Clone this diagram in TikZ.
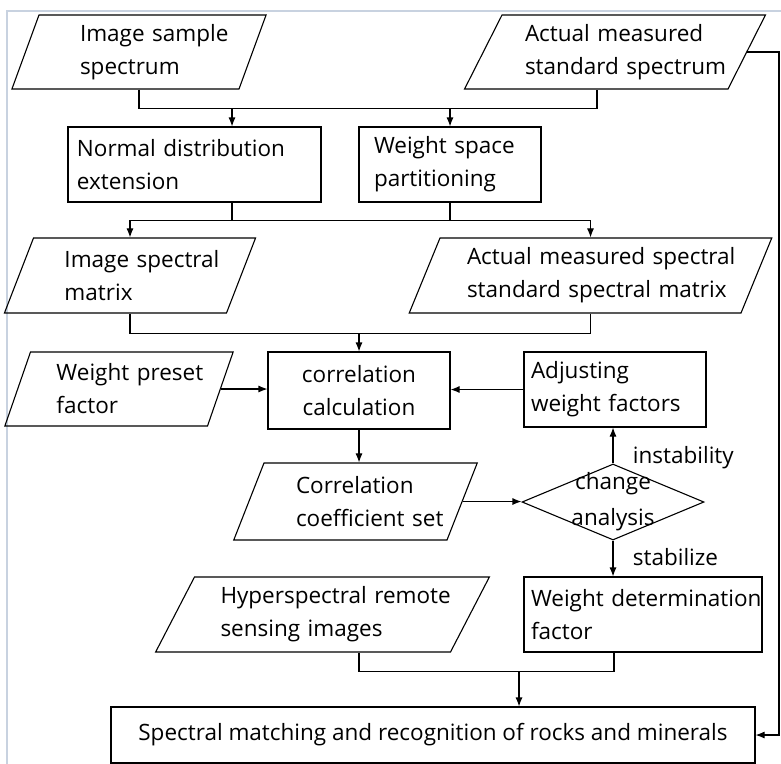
\documentclass[tikz,border=0pt]{standalone}
\usepackage{fontspec}
\setmainfont{Open Sans}
\usetikzlibrary{shapes.geometric,arrows.meta}
\definecolor{framegray}{RGB}{200,210,224}
\hyphenpenalty=10000
\exhyphenpenalty=10000

\tikzset{
  box/.style={draw, rectangle, align=left, inner sep=0pt},
  io/.style={draw, trapezium, trapezium left angle=#1,
    trapezium right angle=\the\numexpr180-#1\relax,
    trapezium stretches body, align=left, inner sep=0pt},
  txt/.style 2 args={text width=#1, execute at begin node={\leftskip=#2\relax}},
  dec/.style={draw, diamond, inner sep=0pt},
  frame/.style={draw=framegray, line width=1.5bp}
}

\begin{document}
\begin{tikzpicture}[x=1bp,y=-1bp,>={Latex[length=9bp,width=7bp]},line width=1.1bp,
  font=\fontsize{22.5bp}{33bp}\selectfont]
\useasboundingbox (0,0) rectangle (781,764);
\draw[frame] (7,764) -- (7,11) -- (781,11);

% inputs
\node[io=64, txt={200bp}{41bp}, minimum width=236bp, minimum height=74bp] (samp) at (139,52) {Image~sample\\spectrum};
\node[io=56, txt={226bp}{23bp}, minimum width=276bp, minimum height=74bp] (stdsp) at (615,52) {Actual~measured\\standard~spectrum};

% processing
\node[box, txt={235bp}{0bp}, minimum width=253bp, minimum height=75bp] (norm) at (194.5,164.5) {Normal distribution\\extension};
\node[box, txt={152bp}{0bp}, minimum width=182bp, minimum height=75bp] (wsp) at (450,164.5) {Weight~space\\partitioning};
\node[io=60, txt={193bp}{31bp}, minimum width=236bp, minimum height=75bp] (imgmat) at (130,275.5) {Image~spectral\\matrix};
\node[io=61, txt={301bp}{27bp}, minimum width=343bp, minimum height=75bp] (stdmat) at (590.5,275.5) {Actual~measured~spectral\\standard~spectral~matrix};
\node[box, align=center, minimum width=182bp, minimum height=77bp] (corr) at (359,390.5) {correlation\\calculation};
\node[io=63, txt={177bp}{26bp}, minimum width=214bp, minimum height=74bp] (preset) at (119,389) {Weight~preset\\factor};
\node[box, txt={168bp}{0bp}, minimum width=182bp, minimum height=75bp] (adj) at (615,389.5) {Adjusting\\weight~factors};
\node[io=59, txt={183bp}{32bp}, minimum width=229bp, minimum height=77bp] (coef) at (355.5,501.5) {Correlation\\coefficient~set};
\node[dec, minimum width=182bp, minimum height=76bp,
  label={[align=center,font=\fontsize{22.5bp}{36bp}\selectfont]center:change\\analysis}] (chg) at (613,502) {};
\node[box, txt={236bp}{6bp}, minimum width=238bp, minimum height=75bp] (wdet) at (643,614.5) {Weight~determination\\factor};
\node[io=55, txt={256bp}{26bp}, minimum width=309bp, minimum height=75bp] (hyp) at (322.5,614.5) {Hyperspectral~remote\\sensing~images};
\node[box, align=center, minimum width=644bp, minimum height=56bp] (spec) at (433,735) {Spectral matching and recognition of rocks and minerals};

% connectors
\path (samp.center |- samp.south) coordinate (sa) ++(0,19) coordinate (ja);
\path (stdsp.center |- stdsp.south) ++(-18,0) coordinate (sb);
\draw (sa) -- (ja) -| (sb);
\path (norm.north) ++(37.5,0) coordinate (na);
\draw[<->] (na) |- (ja) -| (wsp.north);

\path (norm.south) ++(37.5,0) coordinate (nb) ++(0,18) coordinate (jb);
\draw (nb) -- (jb);
\draw (wsp.south) -- (wsp.south |- jb);
\draw[<->] (imgmat.center |- imgmat.north) |- (jb) -| (stdmat.center |- stdmat.north);

\path (imgmat.center |- imgmat.south) coordinate (ib) ++(0,20) coordinate (jc);
\draw (ib) -- (jc) -| (stdmat.center |- stdmat.south);
\draw[->] (corr.north |- jc) -- (corr.north);

\draw[->] (preset.east) -- (preset.east -| corr.west);
\draw[->] (adj.west) -- (adj.west -| corr.east);
\draw[->] (corr.south) -- (corr.south |- coef.north);
\draw[->] (coef.east) -- (coef.east -| chg.west);
\draw[->] (chg.north) -- (chg.north |- adj.south) node[pos=.17, right=16bp] {instability};
\draw[->] (chg.south) -- (chg.south |- wdet.north) node[pos=.46, right=16bp] {stabilize};

\path (hyp.center |- hyp.south) ++(36.5,0) coordinate (hb) ++(0,19) coordinate (jd);
\draw (hb) -- (jd) -| ([xshift=-29bp]wdet.south);
\path (jd) ++(160,0) coordinate (je);
\draw[->] (je) -- (je |- spec.north);

\coordinate (rt) at (779,0);
\draw[->] (stdsp.east) -- (stdsp.east -| rt) |- (spec.east);
\end{tikzpicture}
\end{document}
